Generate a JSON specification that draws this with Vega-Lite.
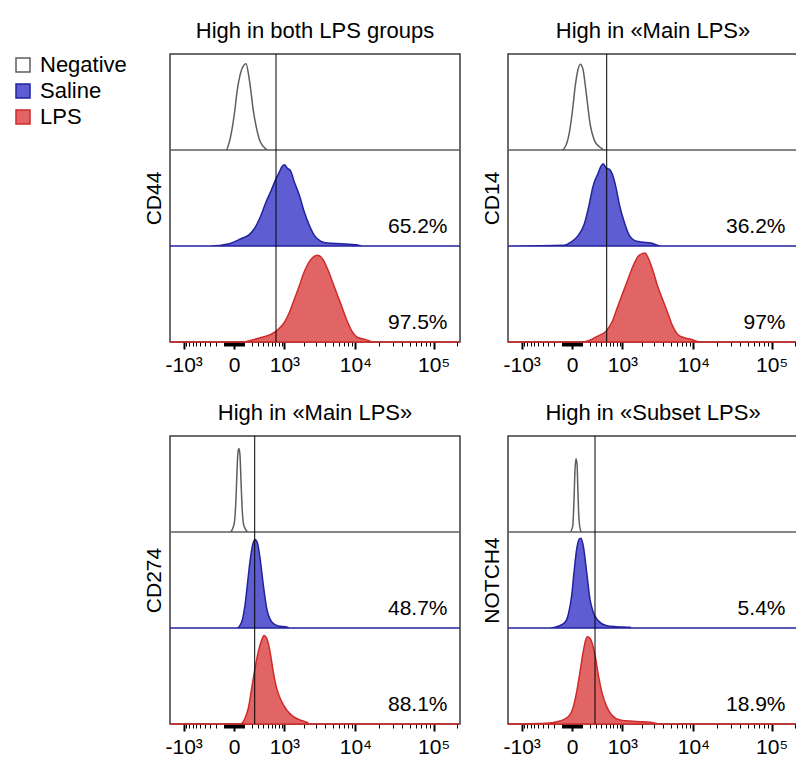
{
"$schema": "https://vega.github.io/schema/vega-lite/v6.json",
"padding": {"left": 11, "top": 18, "right": 0, "bottom": 0},
"background": "white",
"datasets": {
"curves": [
{"m":"CD44","g":"Negative","x":-1635,"h":0},{"m":"CD44","g":"Negative","x":-79,"h":0},{"m":"CD44","g":"Negative","x":-44,"h":0.083},{"m":"CD44","g":"Negative","x":-12,"h":0.257},{"m":"CD44","g":"Negative","x":9,"h":0.43},{"m":"CD44","g":"Negative","x":27,"h":0.604},{"m":"CD44","g":"Negative","x":57,"h":0.778},{"m":"CD44","g":"Negative","x":98,"h":0.882},{"m":"CD44","g":"Negative","x":126,"h":0.899},{"m":"CD44","g":"Negative","x":160,"h":0.778},{"m":"CD44","g":"Negative","x":192,"h":0.604},{"m":"CD44","g":"Negative","x":222,"h":0.43},{"m":"CD44","g":"Negative","x":268,"h":0.257},{"m":"CD44","g":"Negative","x":346,"h":0.083},{"m":"CD44","g":"Negative","x":462,"h":0.01},{"m":"CD44","g":"Negative","x":500,"h":0},{"m":"CD44","g":"Negative","x":216000,"h":0},
{"m":"CD44","g":"Saline","x":-1635,"h":0},{"m":"CD44","g":"Saline","x":-300,"h":0},{"m":"CD44","g":"Saline","x":-44,"h":0.024},{"m":"CD44","g":"Saline","x":68,"h":0.076},{"m":"CD44","g":"Saline","x":168,"h":0.118},{"m":"CD44","g":"Saline","x":242,"h":0.18},{"m":"CD44","g":"Saline","x":359,"h":0.32},{"m":"CD44","g":"Saline","x":462,"h":0.458},{"m":"CD44","g":"Saline","x":587,"h":0.58},{"m":"CD44","g":"Saline","x":719,"h":0.7},{"m":"CD44","g":"Saline","x":822,"h":0.77},{"m":"CD44","g":"Saline","x":903,"h":0.823},{"m":"CD44","g":"Saline","x":998,"h":0.847},{"m":"CD44","g":"Saline","x":1133,"h":0.806},{"m":"CD44","g":"Saline","x":1247,"h":0.788},{"m":"CD44","g":"Saline","x":1437,"h":0.667},{"m":"CD44","g":"Saline","x":1710,"h":0.528},{"m":"CD44","g":"Saline","x":2024,"h":0.354},{"m":"CD44","g":"Saline","x":2388,"h":0.215},{"m":"CD44","g":"Saline","x":2808,"h":0.111},{"m":"CD44","g":"Saline","x":3481,"h":0.049},{"m":"CD44","g":"Saline","x":4290,"h":0.031},{"m":"CD44","g":"Saline","x":6467,"h":0.024},{"m":"CD44","g":"Saline","x":10700,"h":0.01},{"m":"CD44","g":"Saline","x":12000,"h":0},{"m":"CD44","g":"Saline","x":216000,"h":0},
{"m":"CD44","g":"LPS","x":-1635,"h":0},{"m":"CD44","g":"LPS","x":100,"h":0},{"m":"CD44","g":"LPS","x":168,"h":0.012},{"m":"CD44","g":"LPS","x":359,"h":0.047},{"m":"CD44","g":"LPS","x":587,"h":0.081},{"m":"CD44","g":"LPS","x":772,"h":0.127},{"m":"CD44","g":"LPS","x":998,"h":0.203},{"m":"CD44","g":"LPS","x":1202,"h":0.307},{"m":"CD44","g":"LPS","x":1437,"h":0.446},{"m":"CD44","g":"LPS","x":1710,"h":0.585},{"m":"CD44","g":"LPS","x":1917,"h":0.69},{"m":"CD44","g":"LPS","x":2266,"h":0.81},{"m":"CD44","g":"LPS","x":2668,"h":0.88},{"m":"CD44","g":"LPS","x":3133,"h":0.904},{"m":"CD44","g":"LPS","x":3672,"h":0.862},{"m":"CD44","g":"LPS","x":4290,"h":0.758},{"m":"CD44","g":"LPS","x":5011,"h":0.62},{"m":"CD44","g":"LPS","x":5840,"h":0.481},{"m":"CD44","g":"LPS","x":6810,"h":0.342},{"m":"CD44","g":"LPS","x":7930,"h":0.203},{"m":"CD44","g":"LPS","x":9220,"h":0.099},{"m":"CD44","g":"LPS","x":10700,"h":0.047},{"m":"CD44","g":"LPS","x":13020,"h":0.03},{"m":"CD44","g":"LPS","x":17560,"h":0},{"m":"CD44","g":"LPS","x":216000,"h":0},
{"m":"CD14","g":"Negative","x":-1635,"h":0},{"m":"CD14","g":"Negative","x":-105,"h":0},{"m":"CD14","g":"Negative","x":-57,"h":0.052},{"m":"CD14","g":"Negative","x":-23,"h":0.189},{"m":"CD14","g":"Negative","x":6,"h":0.43},{"m":"CD14","g":"Negative","x":30,"h":0.67},{"m":"CD14","g":"Negative","x":54,"h":0.825},{"m":"CD14","g":"Negative","x":82,"h":0.893},{"m":"CD14","g":"Negative","x":113,"h":0.84},{"m":"CD14","g":"Negative","x":142,"h":0.67},{"m":"CD14","g":"Negative","x":174,"h":0.464},{"m":"CD14","g":"Negative","x":211,"h":0.258},{"m":"CD14","g":"Negative","x":274,"h":0.103},{"m":"CD14","g":"Negative","x":365,"h":0.034},{"m":"CD14","g":"Negative","x":507,"h":0},{"m":"CD14","g":"Negative","x":216000,"h":0},
{"m":"CD14","g":"Saline","x":-1635,"h":0},{"m":"CD14","g":"Saline","x":-75,"h":0.007},{"m":"CD14","g":"Saline","x":-9,"h":0.041},{"m":"CD14","g":"Saline","x":60,"h":0.11},{"m":"CD14","g":"Saline","x":129,"h":0.23},{"m":"CD14","g":"Saline","x":196,"h":0.437},{"m":"CD14","g":"Saline","x":248,"h":0.608},{"m":"CD14","g":"Saline","x":292,"h":0.695},{"m":"CD14","g":"Saline","x":334,"h":0.746},{"m":"CD14","g":"Saline","x":398,"h":0.832},{"m":"CD14","g":"Saline","x":446,"h":0.856},{"m":"CD14","g":"Saline","x":507,"h":0.814},{"m":"CD14","g":"Saline","x":596,"h":0.798},{"m":"CD14","g":"Saline","x":672,"h":0.746},{"m":"CD14","g":"Saline","x":780,"h":0.608},{"m":"CD14","g":"Saline","x":889,"h":0.437},{"m":"CD14","g":"Saline","x":1076,"h":0.247},{"m":"CD14","g":"Saline","x":1291,"h":0.11},{"m":"CD14","g":"Saline","x":1541,"h":0.059},{"m":"CD14","g":"Saline","x":1937,"h":0.041},{"m":"CD14","g":"Saline","x":2692,"h":0.031},{"m":"CD14","g":"Saline","x":3706,"h":0},{"m":"CD14","g":"Saline","x":216000,"h":0},
{"m":"CD14","g":"LPS","x":-1635,"h":0},{"m":"CD14","g":"LPS","x":100,"h":0},{"m":"CD14","g":"LPS","x":174,"h":0.01},{"m":"CD14","g":"LPS","x":334,"h":0.062},{"m":"CD14","g":"LPS","x":507,"h":0.113},{"m":"CD14","g":"LPS","x":672,"h":0.216},{"m":"CD14","g":"LPS","x":836,"h":0.371},{"m":"CD14","g":"LPS","x":1013,"h":0.509},{"m":"CD14","g":"LPS","x":1219,"h":0.646},{"m":"CD14","g":"LPS","x":1458,"h":0.784},{"m":"CD14","g":"LPS","x":1732,"h":0.887},{"m":"CD14","g":"LPS","x":2051,"h":0.922},{"m":"CD14","g":"LPS","x":2215,"h":0.928},{"m":"CD14","g":"LPS","x":2419,"h":0.887},{"m":"CD14","g":"LPS","x":2846,"h":0.75},{"m":"CD14","g":"LPS","x":3340,"h":0.577},{"m":"CD14","g":"LPS","x":3909,"h":0.44},{"m":"CD14","g":"LPS","x":4570,"h":0.303},{"m":"CD14","g":"LPS","x":5332,"h":0.165},{"m":"CD14","g":"LPS","x":6213,"h":0.079},{"m":"CD14","g":"LPS","x":7600,"h":0.045},{"m":"CD14","g":"LPS","x":9300,"h":0.028},{"m":"CD14","g":"LPS","x":11900,"h":0},{"m":"CD14","g":"LPS","x":216000,"h":0},
{"m":"CD274","g":"Negative","x":-1635,"h":0},{"m":"CD274","g":"Negative","x":-37,"h":0},{"m":"CD274","g":"Negative","x":0,"h":0.078},{"m":"CD274","g":"Negative","x":18,"h":0.354},{"m":"CD274","g":"Negative","x":27,"h":0.629},{"m":"CD274","g":"Negative","x":37,"h":0.835},{"m":"CD274","g":"Negative","x":47,"h":0.869},{"m":"CD274","g":"Negative","x":57,"h":0.8},{"m":"CD274","g":"Negative","x":68,"h":0.526},{"m":"CD274","g":"Negative","x":82,"h":0.216},{"m":"CD274","g":"Negative","x":101,"h":0.062},{"m":"CD274","g":"Negative","x":155,"h":0},{"m":"CD274","g":"Negative","x":216000,"h":0},
{"m":"CD274","g":"Saline","x":-1635,"h":0},{"m":"CD274","g":"Saline","x":25,"h":0},{"m":"CD274","g":"Saline","x":75,"h":0.063},{"m":"CD274","g":"Saline","x":113,"h":0.238},{"m":"CD274","g":"Saline","x":142,"h":0.448},{"m":"CD274","g":"Saline","x":178,"h":0.695},{"m":"CD274","g":"Saline","x":217,"h":0.869},{"m":"CD274","g":"Saline","x":253,"h":0.922},{"m":"CD274","g":"Saline","x":292,"h":0.887},{"m":"CD274","g":"Saline","x":340,"h":0.729},{"m":"CD274","g":"Saline","x":404,"h":0.448},{"m":"CD274","g":"Saline","x":478,"h":0.203},{"m":"CD274","g":"Saline","x":600,"h":0.063},{"m":"CD274","g":"Saline","x":788,"h":0.021},{"m":"CD274","g":"Saline","x":1090,"h":0.01},{"m":"CD274","g":"Saline","x":1200,"h":0},{"m":"CD274","g":"Saline","x":216000,"h":0},
{"m":"CD274","g":"LPS","x":-1635,"h":0},{"m":"CD274","g":"LPS","x":40,"h":0},{"m":"CD274","g":"LPS","x":75,"h":0.007},{"m":"CD274","g":"LPS","x":113,"h":0.06},{"m":"CD274","g":"LPS","x":155,"h":0.164},{"m":"CD274","g":"LPS","x":202,"h":0.372},{"m":"CD274","g":"LPS","x":253,"h":0.58},{"m":"CD274","g":"LPS","x":309,"h":0.754},{"m":"CD274","g":"LPS","x":372,"h":0.875},{"m":"CD274","g":"LPS","x":419,"h":0.921},{"m":"CD274","g":"LPS","x":478,"h":0.893},{"m":"CD274","g":"LPS","x":556,"h":0.754},{"m":"CD274","g":"LPS","x":640,"h":0.546},{"m":"CD274","g":"LPS","x":738,"h":0.372},{"m":"CD274","g":"LPS","x":903,"h":0.233},{"m":"CD274","g":"LPS","x":1090,"h":0.146},{"m":"CD274","g":"LPS","x":1387,"h":0.077},{"m":"CD274","g":"LPS","x":1750,"h":0.042},{"m":"CD274","g":"LPS","x":2191,"h":0.018},{"m":"CD274","g":"LPS","x":2443,"h":0},{"m":"CD274","g":"LPS","x":216000,"h":0},
{"m":"NOTCH4","g":"Negative","x":-1635,"h":0},{"m":"NOTCH4","g":"Negative","x":-18,"h":0},{"m":"NOTCH4","g":"Negative","x":6,"h":0.058},{"m":"NOTCH4","g":"Negative","x":18,"h":0.333},{"m":"NOTCH4","g":"Negative","x":27,"h":0.642},{"m":"NOTCH4","g":"Negative","x":37,"h":0.763},{"m":"NOTCH4","g":"Negative","x":47,"h":0.711},{"m":"NOTCH4","g":"Negative","x":57,"h":0.402},{"m":"NOTCH4","g":"Negative","x":68,"h":0.127},{"m":"NOTCH4","g":"Negative","x":90,"h":0.006},{"m":"NOTCH4","g":"Negative","x":110,"h":0},{"m":"NOTCH4","g":"Negative","x":216000,"h":0},
{"m":"NOTCH4","g":"Saline","x":-1635,"h":0},{"m":"NOTCH4","g":"Saline","x":-269,"h":0},{"m":"NOTCH4","g":"Saline","x":-147,"h":0.018},{"m":"NOTCH4","g":"Saline","x":-68,"h":0.059},{"m":"NOTCH4","g":"Saline","x":-33,"h":0.146},{"m":"NOTCH4","g":"Saline","x":-3,"h":0.337},{"m":"NOTCH4","g":"Saline","x":18,"h":0.58},{"m":"NOTCH4","g":"Saline","x":44,"h":0.823},{"m":"NOTCH4","g":"Saline","x":71,"h":0.927},{"m":"NOTCH4","g":"Saline","x":90,"h":0.934},{"m":"NOTCH4","g":"Saline","x":116,"h":0.857},{"m":"NOTCH4","g":"Saline","x":160,"h":0.58},{"m":"NOTCH4","g":"Saline","x":206,"h":0.302},{"m":"NOTCH4","g":"Saline","x":257,"h":0.163},{"m":"NOTCH4","g":"Saline","x":346,"h":0.076},{"m":"NOTCH4","g":"Saline","x":524,"h":0.024},{"m":"NOTCH4","g":"Saline","x":798,"h":0.014},{"m":"NOTCH4","g":"Saline","x":1324,"h":0.007},{"m":"NOTCH4","g":"Saline","x":1400,"h":0},{"m":"NOTCH4","g":"Saline","x":216000,"h":0},
{"m":"NOTCH4","g":"LPS","x":-1635,"h":0},{"m":"NOTCH4","g":"LPS","x":-327,"h":0.007},{"m":"NOTCH4","g":"LPS","x":-125,"h":0.031},{"m":"NOTCH4","g":"LPS","x":-33,"h":0.077},{"m":"NOTCH4","g":"LPS","x":12,"h":0.181},{"m":"NOTCH4","g":"LPS","x":44,"h":0.337},{"m":"NOTCH4","g":"LPS","x":79,"h":0.546},{"m":"NOTCH4","g":"LPS","x":116,"h":0.754},{"m":"NOTCH4","g":"LPS","x":147,"h":0.875},{"m":"NOTCH4","g":"LPS","x":168,"h":0.91},{"m":"NOTCH4","g":"LPS","x":206,"h":0.893},{"m":"NOTCH4","g":"LPS","x":248,"h":0.823},{"m":"NOTCH4","g":"LPS","x":286,"h":0.719},{"m":"NOTCH4","g":"LPS","x":346,"h":0.51},{"m":"NOTCH4","g":"LPS","x":413,"h":0.337},{"m":"NOTCH4","g":"LPS","x":524,"h":0.181},{"m":"NOTCH4","g":"LPS","x":653,"h":0.094},{"m":"NOTCH4","g":"LPS","x":917,"h":0.042},{"m":"NOTCH4","g":"LPS","x":1674,"h":0.025},{"m":"NOTCH4","g":"LPS","x":2607,"h":0.018},{"m":"NOTCH4","g":"LPS","x":3590,"h":0},{"m":"NOTCH4","g":"LPS","x":216000,"h":0}
],
"labels": [
{"m":"CD44","g":"Saline","pct":"65.2%"},{"m":"CD44","g":"LPS","pct":"97.5%"},
{"m":"CD14","g":"Saline","pct":"36.2%"},{"m":"CD14","g":"LPS","pct":"97%"},
{"m":"CD274","g":"Saline","pct":"48.7%"},{"m":"CD274","g":"LPS","pct":"88.1%"},
{"m":"NOTCH4","g":"Saline","pct":"5.4%"},{"m":"NOTCH4","g":"LPS","pct":"18.9%"}
],
"gates": [
{"m":"CD44","gate":719},{"m":"CD14","gate":524},{"m":"CD274","gate":248},{"m":"NOTCH4","gate":286}
]
},
"columns": 2,
"spacing": {"row": 24, "column": 16},
"resolve": {"scale": {"fill": "independent", "stroke": "independent"}, "legend": {"fill": "independent", "stroke": "independent"}},
"concat": [
{
"width": 290, "height": 288,
"title": "High in both LPS groups",
"resolve": {"scale": {"y": "independent"}, "axis": {"y": "independent", "x": "independent"}},
"layer": [
{"data": {"name": "curves"}, "transform": [{"filter": "datum.m == 'CD44' && datum.g == 'Negative'"}],
 "mark": {"type": "area", "interpolate": "monotone", "strokeWidth": 1.5},
 "encoding": {
  "x": {"field": "x", "type": "quantitative", "scale": {"type": "symlog", "constant": 300, "domain": [-1635, 216000], "nice": false, "zero": false},
   "axis": {"orient": "bottom", "title": null, "grid": false, "domain": false, "labelOverlap": false, "labelFlush": false, "labelFontSize": 21, "labelColor": "black", "labelPadding": 5, "tickColor": "black", "tickSize": 7, "tickWidth": 2,
    "values": [-1000, 0, 1000, 10000, 100000],
    "labelExpr": "datum.value == -1000 ? '-10³' : datum.value == 0 ? '0' : datum.value == 1000 ? '10³' : datum.value == 10000 ? '10⁴' : '10⁵'"}},
  "y": {"field": "h", "type": "quantitative", "scale": {"domain": [-2, 1], "nice": false, "zero": false},
   "axis": {"title": "CD44", "labels": false, "ticks": false, "domain": false, "grid": false, "titleFontSize": 21, "titleFontWeight": "normal", "titleColor": "black", "titlePadding": 6}},
  "y2": {"datum": 0},
  "fill": {"field": "g", "type": "nominal", "scale": {"domain": ["Negative", "Saline", "LPS"], "range": ["#ffffff", "#5e5ed2", "#e26565"]}, "legend": {"title": null}},
  "stroke": {"field": "g", "type": "nominal", "scale": {"domain": ["Negative", "Saline", "LPS"], "range": ["#5e5e5e", "#22229e", "#d02a2a"]}, "legend": {"title": null}}
 }},
{"layer": [
 {"data": {"name": "curves"}, "transform": [{"filter": "datum.m == 'CD44' && datum.g == 'Saline'"}],
  "mark": {"type": "area", "interpolate": "monotone", "strokeWidth": 1.5},
  "encoding": {
   "x": {"field": "x", "type": "quantitative", "scale": {"type": "symlog", "constant": 300, "domain": [-1635, 216000], "nice": false, "zero": false}, "axis": null},
   "y": {"field": "h", "type": "quantitative", "scale": {"domain": [-1, 2], "nice": false, "zero": false}, "axis": null},
   "y2": {"datum": 0},
   "fill": {"field": "g", "type": "nominal", "scale": {"domain": ["Negative", "Saline", "LPS"], "range": ["#ffffff", "#5e5ed2", "#e26565"]}, "legend": {"title": null}},
   "stroke": {"field": "g", "type": "nominal", "scale": {"domain": ["Negative", "Saline", "LPS"], "range": ["#5e5e5e", "#22229e", "#d02a2a"]}, "legend": {"title": null}}
  }},
 {"data": {"name": "labels"}, "transform": [{"filter": "datum.m == 'CD44' && datum.g == 'Saline'"}],
  "mark": {"type": "text", "align": "right", "baseline": "middle", "fontSize": 21, "color": "black"},
  "encoding": {"x": {"datum": 150000, "type": "quantitative", "axis": null}, "y": {"datum": 0.2, "type": "quantitative", "scale": {"domain": [-1, 2], "nice": false, "zero": false}, "axis": null}, "text": {"field": "pct"}}}
]},
{"layer": [
 {"data": {"name": "curves"}, "transform": [{"filter": "datum.m == 'CD44' && datum.g == 'LPS'"}],
  "mark": {"type": "area", "interpolate": "monotone", "strokeWidth": 1.5},
  "encoding": {
   "x": {"field": "x", "type": "quantitative", "scale": {"type": "symlog", "constant": 300, "domain": [-1635, 216000], "nice": false, "zero": false}, "axis": null},
   "y": {"field": "h", "type": "quantitative", "scale": {"domain": [0, 3], "nice": false, "zero": false}, "axis": null},
   "y2": {"datum": 0},
   "fill": {"field": "g", "type": "nominal", "scale": {"domain": ["Negative", "Saline", "LPS"], "range": ["#ffffff", "#5e5ed2", "#e26565"]}, "legend": {"title": null}},
   "stroke": {"field": "g", "type": "nominal", "scale": {"domain": ["Negative", "Saline", "LPS"], "range": ["#5e5e5e", "#22229e", "#d02a2a"]}, "legend": {"title": null}}
  }},
 {"data": {"name": "labels"}, "transform": [{"filter": "datum.m == 'CD44' && datum.g == 'LPS'"}],
  "mark": {"type": "text", "align": "right", "baseline": "middle", "fontSize": 21, "color": "black"},
  "encoding": {"x": {"datum": 150000, "type": "quantitative", "axis": null}, "y": {"datum": 0.2, "type": "quantitative", "scale": {"domain": [0, 3], "nice": false, "zero": false}, "axis": null}, "text": {"field": "pct"}}}
]},
{"data": {"name": "gates"}, "transform": [{"filter": "datum.m == 'CD44'"}],
 "mark": {"type": "rule", "color": "black", "strokeWidth": 1},
 "encoding": {"x": {"field": "gate", "type": "quantitative",
  "axis": {"orient": "bottom", "title": null, "grid": false, "domain": false, "labels": false, "tickColor": "black", "tickSize": 4, "tickWidth": 1,
   "values": [-900,-800,-700,-600,-500,-400,-300,-200,-100,-90,-80,-70,-60,-50,-40,-30,-20,-10,10,20,30,40,50,60,70,80,90,100,200,300,400,500,600,700,800,900,2000,3000,4000,5000,6000,7000,8000,9000,20000,30000,40000,50000,60000,70000,80000,90000,200000]}}}}
]
},
{
"width": 290, "height": 288,
"title": "High in «Main LPS»",
"resolve": {"scale": {"y": "independent"}, "axis": {"y": "independent", "x": "independent"}},
"layer": [
{"data": {"name": "curves"}, "transform": [{"filter": "datum.m == 'CD14' && datum.g == 'Negative'"}],
 "mark": {"type": "area", "interpolate": "monotone", "strokeWidth": 1.5},
 "encoding": {
  "x": {"field": "x", "type": "quantitative", "scale": {"type": "symlog", "constant": 300, "domain": [-1635, 216000], "nice": false, "zero": false},
   "axis": {"orient": "bottom", "title": null, "grid": false, "domain": false, "labelOverlap": false, "labelFlush": false, "labelFontSize": 21, "labelColor": "black", "labelPadding": 5, "tickColor": "black", "tickSize": 7, "tickWidth": 2,
    "values": [-1000, 0, 1000, 10000, 100000],
    "labelExpr": "datum.value == -1000 ? '-10³' : datum.value == 0 ? '0' : datum.value == 1000 ? '10³' : datum.value == 10000 ? '10⁴' : '10⁵'"}},
  "y": {"field": "h", "type": "quantitative", "scale": {"domain": [-2, 1], "nice": false, "zero": false},
   "axis": {"title": "CD14", "labels": false, "ticks": false, "domain": false, "grid": false, "titleFontSize": 21, "titleFontWeight": "normal", "titleColor": "black", "titlePadding": 6}},
  "y2": {"datum": 0},
  "fill": {"field": "g", "type": "nominal", "scale": {"domain": ["Negative", "Saline", "LPS"], "range": ["#ffffff", "#5e5ed2", "#e26565"]}, "legend": null},
  "stroke": {"field": "g", "type": "nominal", "scale": {"domain": ["Negative", "Saline", "LPS"], "range": ["#5e5e5e", "#22229e", "#d02a2a"]}, "legend": null}
 }},
{"layer": [
 {"data": {"name": "curves"}, "transform": [{"filter": "datum.m == 'CD14' && datum.g == 'Saline'"}],
  "mark": {"type": "area", "interpolate": "monotone", "strokeWidth": 1.5},
  "encoding": {
   "x": {"field": "x", "type": "quantitative", "scale": {"type": "symlog", "constant": 300, "domain": [-1635, 216000], "nice": false, "zero": false}, "axis": null},
   "y": {"field": "h", "type": "quantitative", "scale": {"domain": [-1, 2], "nice": false, "zero": false}, "axis": null},
   "y2": {"datum": 0},
   "fill": {"field": "g", "type": "nominal", "scale": {"domain": ["Negative", "Saline", "LPS"], "range": ["#ffffff", "#5e5ed2", "#e26565"]}, "legend": null},
   "stroke": {"field": "g", "type": "nominal", "scale": {"domain": ["Negative", "Saline", "LPS"], "range": ["#5e5e5e", "#22229e", "#d02a2a"]}, "legend": null}
  }},
 {"data": {"name": "labels"}, "transform": [{"filter": "datum.m == 'CD14' && datum.g == 'Saline'"}],
  "mark": {"type": "text", "align": "right", "baseline": "middle", "fontSize": 21, "color": "black"},
  "encoding": {"x": {"datum": 150000, "type": "quantitative", "axis": null}, "y": {"datum": 0.2, "type": "quantitative", "scale": {"domain": [-1, 2], "nice": false, "zero": false}, "axis": null}, "text": {"field": "pct"}}}
]},
{"layer": [
 {"data": {"name": "curves"}, "transform": [{"filter": "datum.m == 'CD14' && datum.g == 'LPS'"}],
  "mark": {"type": "area", "interpolate": "monotone", "strokeWidth": 1.5},
  "encoding": {
   "x": {"field": "x", "type": "quantitative", "scale": {"type": "symlog", "constant": 300, "domain": [-1635, 216000], "nice": false, "zero": false}, "axis": null},
   "y": {"field": "h", "type": "quantitative", "scale": {"domain": [0, 3], "nice": false, "zero": false}, "axis": null},
   "y2": {"datum": 0},
   "fill": {"field": "g", "type": "nominal", "scale": {"domain": ["Negative", "Saline", "LPS"], "range": ["#ffffff", "#5e5ed2", "#e26565"]}, "legend": null},
   "stroke": {"field": "g", "type": "nominal", "scale": {"domain": ["Negative", "Saline", "LPS"], "range": ["#5e5e5e", "#22229e", "#d02a2a"]}, "legend": null}
  }},
 {"data": {"name": "labels"}, "transform": [{"filter": "datum.m == 'CD14' && datum.g == 'LPS'"}],
  "mark": {"type": "text", "align": "right", "baseline": "middle", "fontSize": 21, "color": "black"},
  "encoding": {"x": {"datum": 150000, "type": "quantitative", "axis": null}, "y": {"datum": 0.2, "type": "quantitative", "scale": {"domain": [0, 3], "nice": false, "zero": false}, "axis": null}, "text": {"field": "pct"}}}
]},
{"data": {"name": "gates"}, "transform": [{"filter": "datum.m == 'CD14'"}],
 "mark": {"type": "rule", "color": "black", "strokeWidth": 1},
 "encoding": {"x": {"field": "gate", "type": "quantitative",
  "axis": {"orient": "bottom", "title": null, "grid": false, "domain": false, "labels": false, "tickColor": "black", "tickSize": 4, "tickWidth": 1,
   "values": [-900,-800,-700,-600,-500,-400,-300,-200,-100,-90,-80,-70,-60,-50,-40,-30,-20,-10,10,20,30,40,50,60,70,80,90,100,200,300,400,500,600,700,800,900,2000,3000,4000,5000,6000,7000,8000,9000,20000,30000,40000,50000,60000,70000,80000,90000,200000]}}}}
]
},
{
"width": 290, "height": 288,
"title": "High in «Main LPS»",
"resolve": {"scale": {"y": "independent"}, "axis": {"y": "independent", "x": "independent"}},
"layer": [
{"data": {"name": "curves"}, "transform": [{"filter": "datum.m == 'CD274' && datum.g == 'Negative'"}],
 "mark": {"type": "area", "interpolate": "monotone", "strokeWidth": 1.5},
 "encoding": {
  "x": {"field": "x", "type": "quantitative", "scale": {"type": "symlog", "constant": 300, "domain": [-1635, 216000], "nice": false, "zero": false},
   "axis": {"orient": "bottom", "title": null, "grid": false, "domain": false, "labelOverlap": false, "labelFlush": false, "labelFontSize": 21, "labelColor": "black", "labelPadding": 5, "tickColor": "black", "tickSize": 7, "tickWidth": 2,
    "values": [-1000, 0, 1000, 10000, 100000],
    "labelExpr": "datum.value == -1000 ? '-10³' : datum.value == 0 ? '0' : datum.value == 1000 ? '10³' : datum.value == 10000 ? '10⁴' : '10⁵'"}},
  "y": {"field": "h", "type": "quantitative", "scale": {"domain": [-2, 1], "nice": false, "zero": false},
   "axis": {"title": "CD274", "labels": false, "ticks": false, "domain": false, "grid": false, "titleFontSize": 21, "titleFontWeight": "normal", "titleColor": "black", "titlePadding": 6}},
  "y2": {"datum": 0},
  "fill": {"field": "g", "type": "nominal", "scale": {"domain": ["Negative", "Saline", "LPS"], "range": ["#ffffff", "#5e5ed2", "#e26565"]}, "legend": null},
  "stroke": {"field": "g", "type": "nominal", "scale": {"domain": ["Negative", "Saline", "LPS"], "range": ["#5e5e5e", "#22229e", "#d02a2a"]}, "legend": null}
 }},
{"layer": [
 {"data": {"name": "curves"}, "transform": [{"filter": "datum.m == 'CD274' && datum.g == 'Saline'"}],
  "mark": {"type": "area", "interpolate": "monotone", "strokeWidth": 1.5},
  "encoding": {
   "x": {"field": "x", "type": "quantitative", "scale": {"type": "symlog", "constant": 300, "domain": [-1635, 216000], "nice": false, "zero": false}, "axis": null},
   "y": {"field": "h", "type": "quantitative", "scale": {"domain": [-1, 2], "nice": false, "zero": false}, "axis": null},
   "y2": {"datum": 0},
   "fill": {"field": "g", "type": "nominal", "scale": {"domain": ["Negative", "Saline", "LPS"], "range": ["#ffffff", "#5e5ed2", "#e26565"]}, "legend": null},
   "stroke": {"field": "g", "type": "nominal", "scale": {"domain": ["Negative", "Saline", "LPS"], "range": ["#5e5e5e", "#22229e", "#d02a2a"]}, "legend": null}
  }},
 {"data": {"name": "labels"}, "transform": [{"filter": "datum.m == 'CD274' && datum.g == 'Saline'"}],
  "mark": {"type": "text", "align": "right", "baseline": "middle", "fontSize": 21, "color": "black"},
  "encoding": {"x": {"datum": 150000, "type": "quantitative", "axis": null}, "y": {"datum": 0.2, "type": "quantitative", "scale": {"domain": [-1, 2], "nice": false, "zero": false}, "axis": null}, "text": {"field": "pct"}}}
]},
{"layer": [
 {"data": {"name": "curves"}, "transform": [{"filter": "datum.m == 'CD274' && datum.g == 'LPS'"}],
  "mark": {"type": "area", "interpolate": "monotone", "strokeWidth": 1.5},
  "encoding": {
   "x": {"field": "x", "type": "quantitative", "scale": {"type": "symlog", "constant": 300, "domain": [-1635, 216000], "nice": false, "zero": false}, "axis": null},
   "y": {"field": "h", "type": "quantitative", "scale": {"domain": [0, 3], "nice": false, "zero": false}, "axis": null},
   "y2": {"datum": 0},
   "fill": {"field": "g", "type": "nominal", "scale": {"domain": ["Negative", "Saline", "LPS"], "range": ["#ffffff", "#5e5ed2", "#e26565"]}, "legend": null},
   "stroke": {"field": "g", "type": "nominal", "scale": {"domain": ["Negative", "Saline", "LPS"], "range": ["#5e5e5e", "#22229e", "#d02a2a"]}, "legend": null}
  }},
 {"data": {"name": "labels"}, "transform": [{"filter": "datum.m == 'CD274' && datum.g == 'LPS'"}],
  "mark": {"type": "text", "align": "right", "baseline": "middle", "fontSize": 21, "color": "black"},
  "encoding": {"x": {"datum": 150000, "type": "quantitative", "axis": null}, "y": {"datum": 0.2, "type": "quantitative", "scale": {"domain": [0, 3], "nice": false, "zero": false}, "axis": null}, "text": {"field": "pct"}}}
]},
{"data": {"name": "gates"}, "transform": [{"filter": "datum.m == 'CD274'"}],
 "mark": {"type": "rule", "color": "black", "strokeWidth": 1},
 "encoding": {"x": {"field": "gate", "type": "quantitative",
  "axis": {"orient": "bottom", "title": null, "grid": false, "domain": false, "labels": false, "tickColor": "black", "tickSize": 4, "tickWidth": 1,
   "values": [-900,-800,-700,-600,-500,-400,-300,-200,-100,-90,-80,-70,-60,-50,-40,-30,-20,-10,10,20,30,40,50,60,70,80,90,100,200,300,400,500,600,700,800,900,2000,3000,4000,5000,6000,7000,8000,9000,20000,30000,40000,50000,60000,70000,80000,90000,200000]}}}}
]
},
{
"width": 290, "height": 288,
"title": "High in «Subset LPS»",
"resolve": {"scale": {"y": "independent"}, "axis": {"y": "independent", "x": "independent"}},
"layer": [
{"data": {"name": "curves"}, "transform": [{"filter": "datum.m == 'NOTCH4' && datum.g == 'Negative'"}],
 "mark": {"type": "area", "interpolate": "monotone", "strokeWidth": 1.5},
 "encoding": {
  "x": {"field": "x", "type": "quantitative", "scale": {"type": "symlog", "constant": 300, "domain": [-1635, 216000], "nice": false, "zero": false},
   "axis": {"orient": "bottom", "title": null, "grid": false, "domain": false, "labelOverlap": false, "labelFlush": false, "labelFontSize": 21, "labelColor": "black", "labelPadding": 5, "tickColor": "black", "tickSize": 7, "tickWidth": 2,
    "values": [-1000, 0, 1000, 10000, 100000],
    "labelExpr": "datum.value == -1000 ? '-10³' : datum.value == 0 ? '0' : datum.value == 1000 ? '10³' : datum.value == 10000 ? '10⁴' : '10⁵'"}},
  "y": {"field": "h", "type": "quantitative", "scale": {"domain": [-2, 1], "nice": false, "zero": false},
   "axis": {"title": "NOTCH4", "labels": false, "ticks": false, "domain": false, "grid": false, "titleFontSize": 21, "titleFontWeight": "normal", "titleColor": "black", "titlePadding": 6}},
  "y2": {"datum": 0},
  "fill": {"field": "g", "type": "nominal", "scale": {"domain": ["Negative", "Saline", "LPS"], "range": ["#ffffff", "#5e5ed2", "#e26565"]}, "legend": null},
  "stroke": {"field": "g", "type": "nominal", "scale": {"domain": ["Negative", "Saline", "LPS"], "range": ["#5e5e5e", "#22229e", "#d02a2a"]}, "legend": null}
 }},
{"layer": [
 {"data": {"name": "curves"}, "transform": [{"filter": "datum.m == 'NOTCH4' && datum.g == 'Saline'"}],
  "mark": {"type": "area", "interpolate": "monotone", "strokeWidth": 1.5},
  "encoding": {
   "x": {"field": "x", "type": "quantitative", "scale": {"type": "symlog", "constant": 300, "domain": [-1635, 216000], "nice": false, "zero": false}, "axis": null},
   "y": {"field": "h", "type": "quantitative", "scale": {"domain": [-1, 2], "nice": false, "zero": false}, "axis": null},
   "y2": {"datum": 0},
   "fill": {"field": "g", "type": "nominal", "scale": {"domain": ["Negative", "Saline", "LPS"], "range": ["#ffffff", "#5e5ed2", "#e26565"]}, "legend": null},
   "stroke": {"field": "g", "type": "nominal", "scale": {"domain": ["Negative", "Saline", "LPS"], "range": ["#5e5e5e", "#22229e", "#d02a2a"]}, "legend": null}
  }},
 {"data": {"name": "labels"}, "transform": [{"filter": "datum.m == 'NOTCH4' && datum.g == 'Saline'"}],
  "mark": {"type": "text", "align": "right", "baseline": "middle", "fontSize": 21, "color": "black"},
  "encoding": {"x": {"datum": 150000, "type": "quantitative", "axis": null}, "y": {"datum": 0.2, "type": "quantitative", "scale": {"domain": [-1, 2], "nice": false, "zero": false}, "axis": null}, "text": {"field": "pct"}}}
]},
{"layer": [
 {"data": {"name": "curves"}, "transform": [{"filter": "datum.m == 'NOTCH4' && datum.g == 'LPS'"}],
  "mark": {"type": "area", "interpolate": "monotone", "strokeWidth": 1.5},
  "encoding": {
   "x": {"field": "x", "type": "quantitative", "scale": {"type": "symlog", "constant": 300, "domain": [-1635, 216000], "nice": false, "zero": false}, "axis": null},
   "y": {"field": "h", "type": "quantitative", "scale": {"domain": [0, 3], "nice": false, "zero": false}, "axis": null},
   "y2": {"datum": 0},
   "fill": {"field": "g", "type": "nominal", "scale": {"domain": ["Negative", "Saline", "LPS"], "range": ["#ffffff", "#5e5ed2", "#e26565"]}, "legend": null},
   "stroke": {"field": "g", "type": "nominal", "scale": {"domain": ["Negative", "Saline", "LPS"], "range": ["#5e5e5e", "#22229e", "#d02a2a"]}, "legend": null}
  }},
 {"data": {"name": "labels"}, "transform": [{"filter": "datum.m == 'NOTCH4' && datum.g == 'LPS'"}],
  "mark": {"type": "text", "align": "right", "baseline": "middle", "fontSize": 21, "color": "black"},
  "encoding": {"x": {"datum": 150000, "type": "quantitative", "axis": null}, "y": {"datum": 0.2, "type": "quantitative", "scale": {"domain": [0, 3], "nice": false, "zero": false}, "axis": null}, "text": {"field": "pct"}}}
]},
{"data": {"name": "gates"}, "transform": [{"filter": "datum.m == 'NOTCH4'"}],
 "mark": {"type": "rule", "color": "black", "strokeWidth": 1},
 "encoding": {"x": {"field": "gate", "type": "quantitative",
  "axis": {"orient": "bottom", "title": null, "grid": false, "domain": false, "labels": false, "tickColor": "black", "tickSize": 4, "tickWidth": 1,
   "values": [-900,-800,-700,-600,-500,-400,-300,-200,-100,-90,-80,-70,-60,-50,-40,-30,-20,-10,10,20,30,40,50,60,70,80,90,100,200,300,400,500,600,700,800,900,2000,3000,4000,5000,6000,7000,8000,9000,20000,30000,40000,50000,60000,70000,80000,90000,200000]}}}}
]
}
],
"config": {
 "font": "Liberation Sans",
 "view": {"stroke": "#3c3c3c", "strokeWidth": 1.5},
 "axis": {"labelOverlap": false, "labelFlush": false, "grid": false},
 "axisX": {"labelOverlap": false, "labelFlush": false, "labelFontSize": 21, "labelColor": "black", "tickColor": "black", "domain": false},
 "title": {"fontSize": 22, "fontWeight": "normal", "color": "black", "offset": 11, "anchor": "middle"},
 "legend": {"orient": "left", "offset": 16, "symbolType": "square", "symbolSize": 196, "symbolStrokeWidth": 1.5, "labelFontSize": 22, "labelColor": "black", "rowPadding": 4, "labelOffset": 6, "labelLimit": 200}
}
}
